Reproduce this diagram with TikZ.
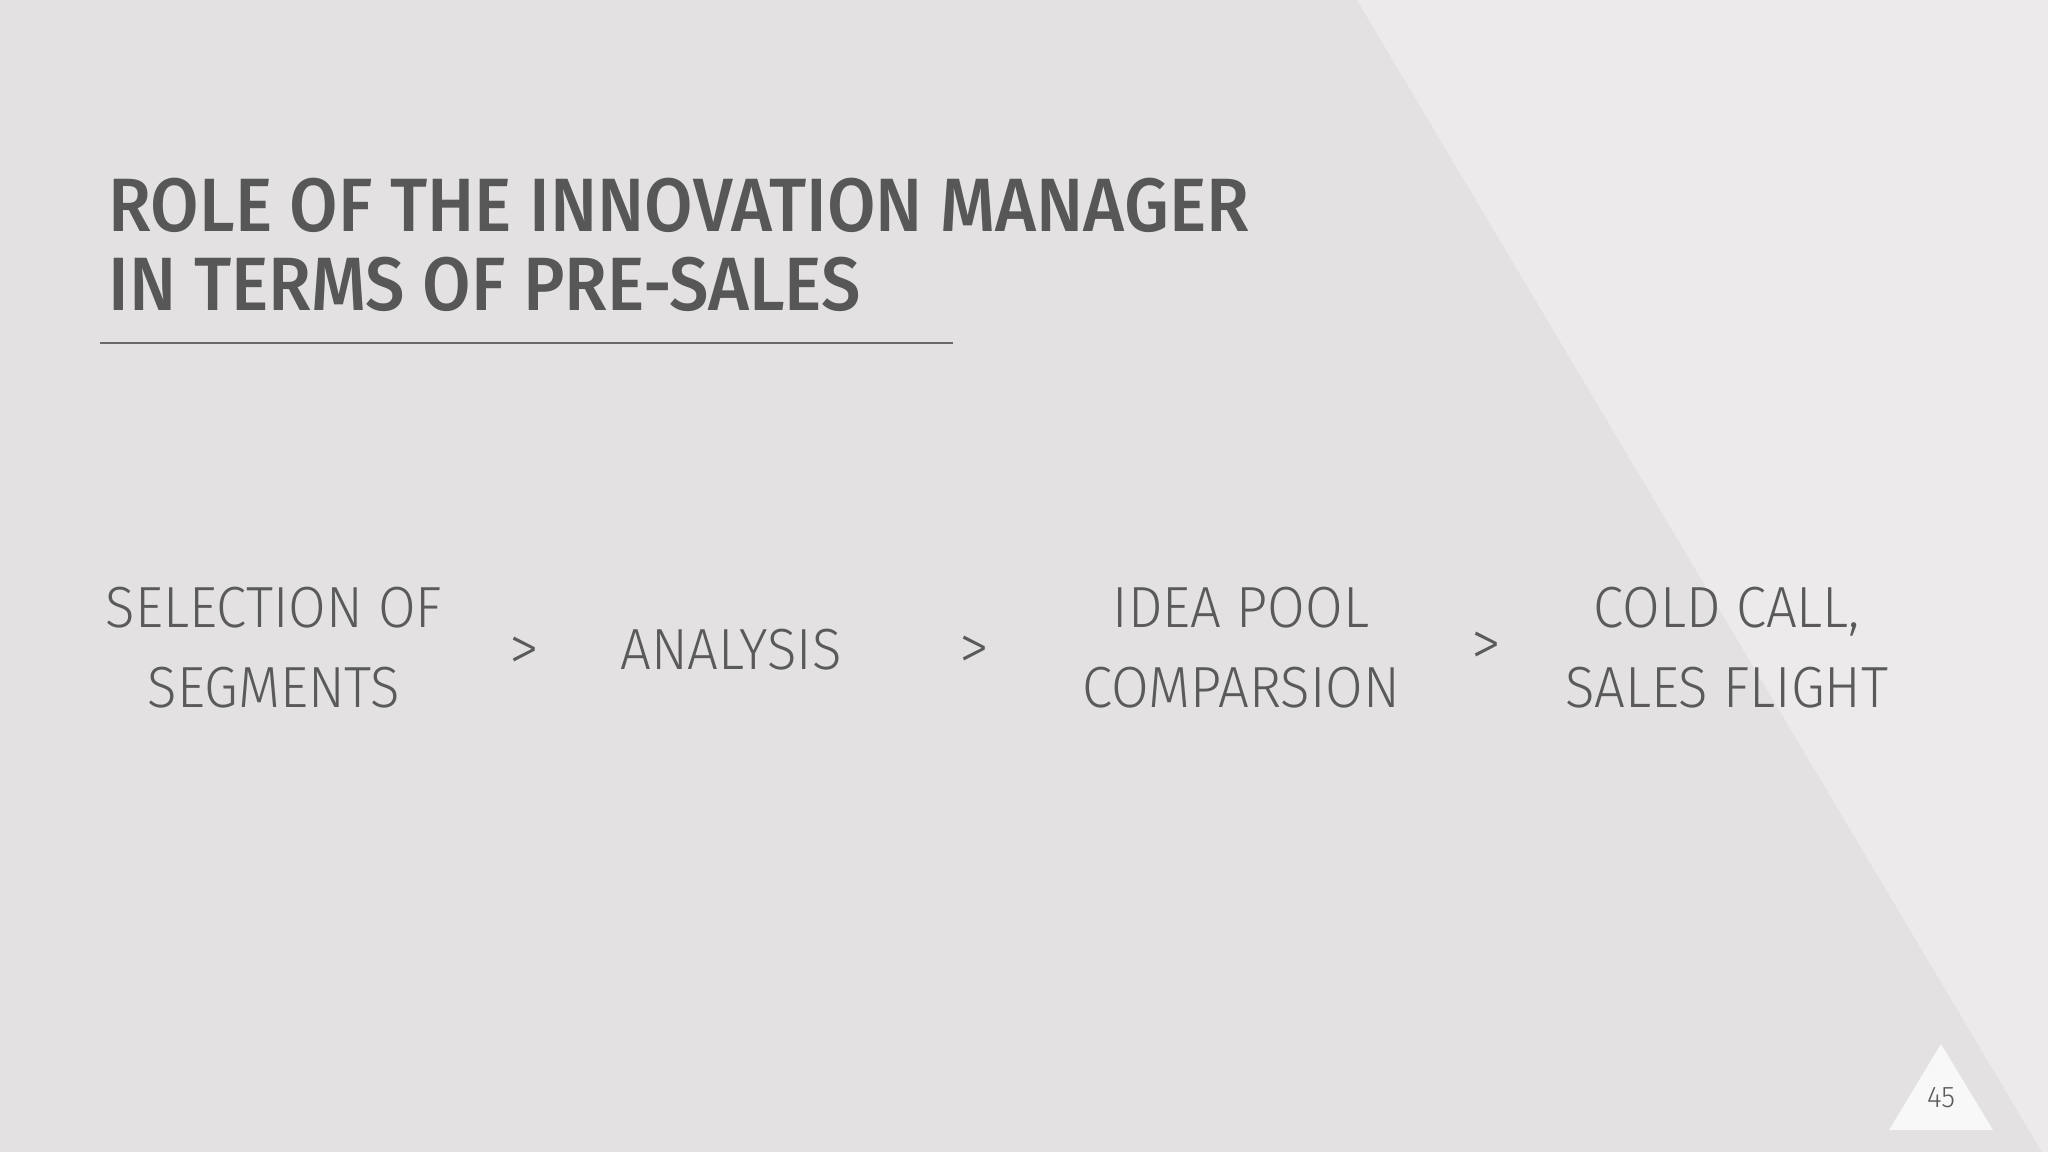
\documentclass[tikz,border=0pt]{standalone}
\usepackage{fontspec}
\setmainfont{Fira Sans}
\newfontfamily\headfont{Fira Sans Medium}[FakeStretch=0.93]
\newfontfamily\stepfont{Fira Sans Light}[FakeStretch=0.94]
\usepackage{xcolor}
\definecolor{bgslide}{HTML}{E3E1E1}
\definecolor{bglight}{HTML}{ECEAEA}
\definecolor{textdark}{HTML}{575757}
\definecolor{textstep}{HTML}{5A5A5A}
\definecolor{ruleline}{HTML}{6A6A6A}
\definecolor{pagetri}{HTML}{F8F8F8}
\usepackage{tikz}
\usetikzlibrary{positioning}

\begin{document}
\begin{tikzpicture}[x=0.01cm, y=-0.01cm,
    headline/.style={anchor=base west, inner sep=0pt, text=textdark, font=\headfont\fontsize{21.5}{26}\selectfont},
    stepbox/.style={align=center, inner sep=0pt, text=textstep, font=\stepfont\fontsize{16.5}{22.8}\selectfont},
    sep/.style={inner sep=0pt, text=textstep, font=\stepfont\fontsize{18}{20}\selectfont}]
        % slide background
        \fill[bgslide] (0,0) rectangle (2048,1152);
        \fill[bglight] (1357,0) -- (2048,0) -- (2048,1152) -- (2042,1152) -- cycle;
        \useasboundingbox (0,0) rectangle (2048,1152);
        % title
        \node[headline] (title1) at (108,232) {ROLE OF THE INNOVATION MANAGER};
        \node[headline] (title2) at (108,311) {IN TERMS OF PRE-SALES};
        \draw[ruleline, line width=0.55pt] (100,343) -- (953,343);
        % steps
        \node[stepbox] (select) at (274,648) {SELECTION OF\\SEGMENTS};
        \node[sep] (gt1) at (524,654) {>};
        \node[stepbox] (analysis) at (731,650) {ANALYSIS};
        \node[sep] (gt2) at (974,653) {>};
        \node[stepbox] (pool) at (1241,648) {IDEA POOL\\COMPARSION};
        \node[sep] (gt3) at (1486,649) {>};
        \node[stepbox] (cold) at (1727,648) {COLD CALL,\\SALES FLIGHT};
        % page number
        \fill[pagetri] (1941,1044) -- (1993,1130) -- (1889,1130) -- cycle;
        \node[inner sep=0pt, text=textstep, font=\stepfont\fontsize{8.5}{10}\selectfont] (page) at (1941,1098) {45};
      \end{tikzpicture}
\end{document}
